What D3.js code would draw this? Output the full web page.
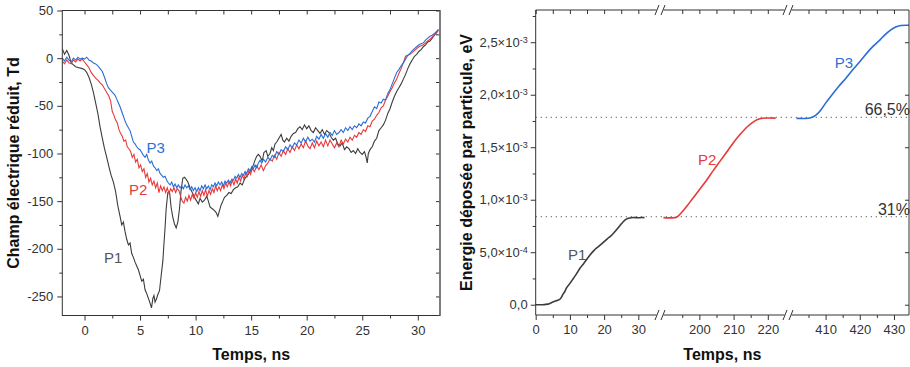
<!DOCTYPE html>
<html><head><meta charset="utf-8">
<script src="https://cdn.jsdelivr.net/npm/d3@7/dist/d3.min.js"></script>
<style>
body{margin:0;background:#fff}
svg{display:block;font-family:"Liberation Sans",Arial,sans-serif}
</style>
</head><body>
<svg id="c" width="910" height="367"></svg>
<script>
// ---------------- DATA ----------------
// Left panel: reduced electric field (Td) vs time (ns)
const fieldP1 = [[-2.0,10],[-1.8,4],[-1.6,8],[-1.4,3],[-1.2,-5],[-1.0,-7],[-0.8,-9],[-0.5,-10],[-0.2,-11],[0.0,-12],[0.2,-15],[0.4,-20],[0.6,-27],[0.8,-36],[1.0,-47],[1.2,-58],[1.4,-72],[1.6,-84],[1.8,-95],[2.0,-104],[2.2,-114],[2.4,-123],[2.6,-130],[2.8,-140],[3.0,-155],[3.2,-166],[3.35,-175],[3.5,-172],[3.65,-182],[3.8,-190],[3.95,-196],[4.1,-194],[4.25,-205],[4.4,-209],[4.55,-214],[4.7,-218],[4.85,-222],[5.0,-228],[5.15,-234],[5.3,-232],[5.45,-243],[5.6,-247],[5.75,-252],[5.9,-257],[6.03,-262],[6.15,-252],[6.25,-249],[6.35,-256],[6.5,-252],[6.6,-248],[6.75,-244],[6.9,-228],[7.05,-213],[7.15,-195],[7.25,-178],[7.35,-158],[7.5,-141],[7.65,-140],[7.8,-157],[7.95,-167],[8.1,-174],[8.25,-178],[8.4,-172],[8.55,-158],[8.7,-138],[8.85,-126],[9.0,-125],[9.15,-127],[9.3,-130],[9.5,-136],[9.7,-141],[9.9,-146],[10.1,-150],[10.25,-153],[10.4,-147],[10.6,-151],[10.8,-149],[11.0,-145],[11.15,-150],[11.3,-156],[11.5,-158],[11.7,-160],[11.85,-162],[12.0,-166],[12.15,-160],[12.3,-154],[12.45,-150],[12.6,-146],[12.8,-144],[13.0,-141],[13.2,-142],[13.4,-138],[13.6,-136],[13.8,-135],[14.0,-131],[14.2,-133],[14.4,-127],[14.6,-124],[14.8,-121],[15.0,-117],[15.2,-112],[15.35,-107],[15.5,-103],[15.65,-101],[15.8,-103],[16.0,-108],[16.15,-99],[16.35,-97],[16.5,-103],[16.7,-100],[16.85,-94],[17.0,-97],[17.15,-90],[17.3,-88],[17.5,-84],[17.7,-80],[17.85,-86],[18.0,-88],[18.2,-84],[18.4,-87],[18.6,-82],[18.8,-79],[19.0,-78],[19.2,-74],[19.4,-72],[19.6,-75],[19.8,-70],[20.0,-74],[20.2,-71],[20.4,-76],[20.6,-78],[20.8,-73],[21.0,-76],[21.2,-79],[21.4,-75],[21.6,-80],[21.8,-76],[22.0,-78],[22.2,-83],[22.4,-86],[22.6,-84],[22.8,-90],[23.0,-92],[23.2,-89],[23.4,-96],[23.6,-93],[23.8,-95],[24.0,-99],[24.2,-97],[24.4,-100],[24.6,-95],[24.8,-99],[25.0,-101],[25.2,-98],[25.35,-104],[25.45,-110],[25.55,-100],[25.7,-96],[25.9,-93],[26.1,-87],[26.3,-84],[26.5,-76],[26.7,-73],[26.9,-70],[27.1,-65],[27.3,-58],[27.5,-53],[27.7,-46],[27.9,-40],[28.1,-35],[28.3,-31],[28.5,-27],[28.7,-22],[28.9,-17],[29.1,-11],[29.3,-6],[29.5,-2],[29.7,2],[29.9,4],[30.1,7],[30.3,9],[30.5,12],[30.7,14],[30.9,17],[31.1,18],[31.3,21],[31.5,24],[31.7,27],[31.85,30]];

const fieldP2 = [[-2.0,-3],[-1.8,-6],[-1.6,-2],[-1.4,-5],[-1.2,-6],[-1.0,-2],[-0.8,-4],[-0.6,-1],[-0.4,-3],[-0.2,-1],[0.0,-4],[0.2,-7],[0.4,-10],[0.6,-15],[0.8,-18],[1.0,-21],[1.2,-23],[1.4,-26],[1.6,-28],[1.8,-32],[2.0,-36],[2.2,-40],[2.35,-45],[2.5,-56],[2.65,-60],[2.8,-65],[2.95,-68],[3.1,-75],[3.25,-79],[3.4,-82],[3.55,-87],[3.7,-86],[3.85,-93],[4.0,-95],[4.15,-98],[4.3,-104],[4.45,-101],[4.6,-109],[4.75,-106],[4.9,-115],[5.05,-112],[5.2,-119],[5.35,-116],[5.5,-125],[5.65,-121],[5.8,-130],[5.95,-126],[6.1,-133],[6.25,-129],[6.4,-136],[6.55,-131],[6.7,-141],[6.85,-134],[7.0,-139],[7.15,-135],[7.3,-141],[7.45,-136],[7.6,-142],[7.75,-137],[7.9,-140],[8.05,-136],[8.2,-141],[8.35,-137],[8.5,-139],[8.65,-145],[8.8,-150],[8.95,-152],[9.1,-146],[9.25,-150],[9.4,-144],[9.55,-149],[9.7,-143],[9.85,-147],[10.0,-141],[10.15,-146],[10.3,-140],[10.45,-145],[10.6,-139],[10.75,-144],[10.9,-138],[11.05,-145],[11.2,-139],[11.35,-143],[11.5,-137],[11.65,-141],[11.8,-134],[11.95,-139],[12.1,-135],[12.25,-139],[12.4,-133],[12.55,-137],[12.7,-131],[12.85,-135],[13.0,-130],[13.15,-134],[13.3,-128],[13.45,-133],[13.6,-127],[13.75,-131],[13.9,-125],[14.05,-129],[14.2,-123],[14.35,-127],[14.5,-121],[14.65,-124],[14.8,-118],[14.95,-122],[15.1,-116],[15.3,-119],[15.5,-113],[15.7,-117],[15.9,-112],[16.1,-118],[16.3,-113],[16.5,-110],[16.7,-106],[16.9,-108],[17.1,-102],[17.3,-106],[17.5,-99],[17.7,-103],[17.9,-97],[18.1,-101],[18.3,-95],[18.5,-99],[18.7,-93],[18.9,-97],[19.1,-91],[19.3,-95],[19.5,-90],[19.7,-94],[19.9,-87],[20.1,-92],[20.3,-95],[20.5,-89],[20.7,-94],[20.9,-87],[21.1,-92],[21.3,-88],[21.5,-93],[21.7,-86],[21.9,-92],[22.1,-86],[22.3,-90],[22.5,-94],[22.7,-89],[22.9,-93],[23.1,-86],[23.3,-90],[23.5,-85],[23.7,-88],[23.9,-83],[24.1,-86],[24.3,-81],[24.5,-83],[24.7,-78],[24.9,-80],[25.1,-75],[25.3,-77],[25.5,-71],[25.7,-72],[25.9,-66],[26.1,-64],[26.3,-60],[26.5,-57],[26.7,-52],[26.9,-50],[27.1,-44],[27.3,-40],[27.5,-35],[27.7,-31],[27.9,-26],[28.1,-22],[28.3,-16],[28.5,-11],[28.7,-5],[28.9,2],[29.1,3],[29.3,4],[29.5,6],[29.7,8],[29.9,10],[30.1,12],[30.3,13],[30.5,14],[30.7,16],[30.9,18],[31.1,20],[31.3,22],[31.5,24],[31.7,27],[31.85,29]];

const fieldP3 = [[-2.0,0],[-1.8,-3],[-1.6,1],[-1.4,-2],[-1.2,-4],[-1.0,0],[-0.8,-2],[-0.6,1],[-0.4,-1],[-0.2,0],[0.0,-1],[0.2,1],[0.4,-2],[0.6,-3],[0.8,-5],[1.0,-6],[1.2,-8],[1.4,-11],[1.6,-14],[1.8,-20],[2.0,-27],[2.15,-31],[2.3,-33],[2.45,-35],[2.6,-37],[2.75,-39],[2.9,-43],[3.05,-47],[3.2,-51],[3.35,-56],[3.5,-61],[3.65,-66],[3.8,-70],[3.95,-73],[4.1,-76],[4.25,-82],[4.4,-88],[4.55,-90],[4.7,-93],[4.85,-95],[5.0,-96],[5.15,-99],[5.3,-102],[5.45,-104],[5.6,-101],[5.75,-107],[5.9,-110],[6.05,-108],[6.2,-113],[6.35,-115],[6.5,-118],[6.65,-116],[6.8,-121],[6.95,-123],[7.1,-125],[7.25,-124],[7.4,-128],[7.55,-131],[7.7,-133],[7.85,-130],[8.0,-135],[8.15,-132],[8.3,-136],[8.45,-133],[8.6,-136],[8.75,-134],[8.9,-137],[9.05,-133],[9.2,-136],[9.35,-134],[9.5,-138],[9.65,-135],[9.8,-139],[9.95,-136],[10.1,-140],[10.25,-136],[10.4,-139],[10.55,-134],[10.7,-137],[10.85,-133],[11.0,-137],[11.15,-134],[11.3,-138],[11.45,-133],[11.6,-135],[11.75,-131],[11.9,-134],[12.05,-130],[12.2,-133],[12.35,-130],[12.5,-134],[12.65,-129],[12.8,-131],[12.95,-128],[13.1,-131],[13.25,-127],[13.4,-128],[13.55,-124],[13.7,-126],[13.85,-122],[14.0,-125],[14.15,-121],[14.3,-123],[14.45,-119],[14.6,-121],[14.75,-116],[14.9,-118],[15.05,-114],[15.2,-116],[15.35,-112],[15.5,-115],[15.65,-110],[15.8,-107],[15.95,-110],[16.1,-106],[16.3,-109],[16.5,-104],[16.7,-107],[16.9,-102],[17.1,-104],[17.3,-98],[17.5,-101],[17.7,-96],[17.9,-98],[18.1,-93],[18.3,-96],[18.5,-91],[18.7,-94],[18.9,-89],[19.1,-91],[19.3,-86],[19.5,-89],[19.7,-84],[19.9,-88],[20.1,-83],[20.3,-87],[20.5,-85],[20.7,-88],[20.9,-82],[21.1,-85],[21.3,-80],[21.5,-84],[21.7,-79],[21.9,-83],[22.1,-78],[22.3,-81],[22.5,-76],[22.7,-80],[22.9,-78],[23.1,-75],[23.3,-78],[23.5,-73],[23.7,-76],[23.9,-72],[24.1,-75],[24.3,-71],[24.5,-73],[24.7,-69],[24.9,-71],[25.1,-67],[25.3,-68],[25.5,-63],[25.7,-61],[25.9,-56],[26.1,-51],[26.3,-53],[26.5,-46],[26.7,-47],[26.9,-43],[27.1,-44],[27.3,-37],[27.5,-33],[27.7,-27],[27.9,-21],[28.1,-15],[28.3,-12],[28.5,-8],[28.7,-5],[28.9,-1],[29.1,3],[29.3,5],[29.5,8],[29.7,10],[29.9,12],[30.1,14],[30.3,15],[30.5,16],[30.7,19],[30.9,21],[31.1,23],[31.3,24],[31.5,26],[31.7,28],[31.85,30]];

// Right panel: deposited energy per particle (eV) vs time (ns), three time segments
const energyP1 = [[0,0],[2,0],[3,0.000003],[4,0.00001],[5,0.000025],[6,0.000038],[7,0.00005],[7.5,0.00007],[8,0.0001],[8.5,0.000125],[9,0.00016],[10,0.000203],[11,0.00025],[12,0.000298],[13,0.00035],[14,0.00039],[15,0.000435],[16,0.000478],[17,0.000515],[18,0.000545],[19,0.000572],[20,0.0006],[21,0.00063],[22,0.000655],[23,0.00069],[24,0.000728],[25,0.000768],[26,0.000803],[26.5,0.000815],[27.5,0.000826],[28.5,0.00083],[30,0.000828],[31,0.00083],[31.8,0.000829]];
const energyP2 = [[189.5,0.000829],[191,0.000827],[193,0.000829],[194,0.00085],[195,0.000885],[196.5,0.000945],[198,0.00101],[200,0.001095],[202,0.00118],[204,0.001275],[206,0.001365],[208,0.001455],[210,0.001545],[212,0.001625],[214,0.001695],[215.5,0.001735],[217,0.001765],[218.5,0.001776],[220,0.001778],[222.3,0.001777]];
const energyP3 = [[401.5,0.001775],[403,0.001774],[405,0.001776],[406.4,0.00179],[407.5,0.001815],[408.5,0.00185],[410,0.00192],[412,0.002005],[414,0.002085],[416,0.00216],[418,0.00224],[420,0.002315],[422,0.002394],[424,0.002465],[426,0.002525],[427.5,0.002575],[429,0.002615],[430.5,0.002645],[432,0.00266],[433.5,0.002662],[434.4,0.002662]];

// Axis setup
const fieldXTicks = [0,5,10,15,20,25,30];
const fieldXMinor = [2.5,7.5,12.5,17.5,22.5,27.5];
const fieldYTicks = [-250,-200,-150,-100,-50,0,50];
const fieldYMinor = [-225,-175,-125,-75,-25,25];
const segDomains = [[0,36.34],[188.5,225.9],[399,434.4]];
const segMajor = [[0,10,20,30],[200,210,220],[410,420,430]];
const segMinor = [[5,15,25],[195,205,215],[405,415,425]];
const energyYTicks = [0,0.0005,0.001,0.0015,0.002,0.0025];
const energyYMant = ["0,0","5,0","1,0","1,5","2,0","2,5"];
const energyYExp = [null,"-4","-3","-3","-3","-3"];
const energyYMinor = [0.00025,0.00075,0.00125,0.00175,0.00225,0.00275];
const refLevels = [0.000838,0.001785];
const refLabels = ["31%","66,5%"];

// Labels (data coordinates)
const fieldLabels = [{n:"P3",t:5.58,v:-99.7,c:"#2f6fd4"},{n:"P2",t:4.0,v:-144,c:"#e0403e"},{n:"P1",t:1.76,v:-214.4,c:"#555"}];
const energyLabels = [{n:"P1",seg:0,t:9.44,v:0.000426,c:"#555"},{n:"P2",seg:1,t:199.6,v:0.00133,c:"#e0403e"},{n:"P3",seg:2,t:412.7,v:0.002254,c:"#2f6fd4"}];

const colP1 = "#3c3c3c", colP2 = "#e8393a", colP3 = "#2a6dd6";
const axisCol = "#333", textCol = "#333";

// --------------- DRAW ---------------
const svg = d3.select("#c");

function styleAxis(g, fs){
  g.select(".domain").remove();
  g.selectAll(".tick line").attr("stroke", axisCol);
  g.selectAll(".tick text").attr("fill", textCol).style("font-size", fs+"px").style("font-family","'Liberation Sans',Arial,sans-serif");
}

// ===== Left panel =====
const L = {x0:62.3, x1:440, y0:10.5, y1:315.5};
const xL = d3.scaleLinear().domain([-2,32]).range([L.x0,L.x1]);
const yL = d3.scaleLinear().domain([-270,50]).range([L.y1,L.y0]);
const gl = svg.append("g");

gl.append("clipPath").attr("id","clipL").append("rect")
  .attr("x",L.x0).attr("y",L.y0).attr("width",L.x1-L.x0).attr("height",L.y1-L.y0);

const lineL = d3.line().x(d=>xL(d[0])).y(d=>yL(d[1]));
[[fieldP1,colP1],[fieldP2,colP2],[fieldP3,colP3]].forEach(([d,c])=>{
  gl.append("path").datum(d).attr("d",lineL).attr("fill","none")
    .attr("stroke",c).attr("stroke-width",1.1).attr("clip-path","url(#clipL)");
});

// axes
gl.append("g").attr("transform",`translate(0,${L.y1})`)
  .call(d3.axisBottom(xL).tickValues(fieldXTicks).tickSize(5).tickPadding(5).tickFormat(d=>String(d)))
  .call(g=>styleAxis(g,13));
gl.append("g").attr("transform",`translate(0,${L.y1})`)
  .call(d3.axisBottom(xL).tickValues(fieldXMinor).tickSize(3).tickFormat(""))
  .call(g=>styleAxis(g,13));
gl.append("g").attr("transform",`translate(0,${L.y0})`)
  .call(d3.axisTop(xL).tickValues(fieldXTicks.concat(fieldXMinor)).tickSize(-4).tickFormat(""))
  .call(g=>styleAxis(g,13));
gl.append("g").attr("transform",`translate(${L.x0},0)`)
  .call(d3.axisLeft(yL).tickValues(fieldYTicks).tickSize(5).tickPadding(4).tickFormat(d=>String(d)))
  .call(g=>styleAxis(g,13));
gl.append("g").attr("transform",`translate(${L.x0},0)`)
  .call(d3.axisLeft(yL).tickValues(fieldYMinor).tickSize(3).tickFormat(""))
  .call(g=>styleAxis(g,13));
gl.append("g").attr("transform",`translate(${L.x1},0)`)
  .call(d3.axisLeft(yL).tickValues(fieldYTicks.concat(fieldYMinor)).tickSize(4).tickFormat(""))
  .call(g=>styleAxis(g,13));

gl.append("rect").attr("x",L.x0).attr("y",L.y0).attr("width",L.x1-L.x0).attr("height",L.y1-L.y0)
  .attr("fill","none").attr("stroke",axisCol).attr("stroke-width",1);
gl.append("line").attr("x1",L.x1).attr("x2",L.x1).attr("y1",L.y0).attr("y2",L.y1)
  .attr("stroke","#777").attr("stroke-width",1.6);

gl.selectAll("text.lab").data(fieldLabels).join("text").attr("class","lab")
  .attr("x",d=>xL(d.t)).attr("y",d=>yL(d.v)).attr("fill",d=>d.c)
  .style("font-size","15px").text(d=>d.n);

gl.append("text").attr("x",(L.x0+L.x1)/2).attr("y",360).attr("text-anchor","middle")
  .style("font-size","16px").style("font-weight","bold").attr("fill","#111").text("Temps, ns");
gl.append("text").attr("transform",`translate(19,${(L.y0+L.y1)/2}) rotate(-90)`).attr("text-anchor","middle")
  .style("font-size","16px").style("font-weight","bold").attr("fill","#111").text("Champ électrique réduit, Td");

// ===== Right panel =====
const R = {x0:535.7, x1:909, y0:10, y1:315};
const breaksPx = [660, 788];
const edges = [R.x0, breaksPx[0], breaksPx[1], R.x1];
const xs = segDomains.map((d,i)=>d3.scaleLinear().domain(d).range([edges[i],edges[i+1]]));
const yR = d3.scaleLinear().domain([-0.000098,0.002807]).range([R.y1,R.y0]);
const gr = svg.append("g");

// reference dotted lines
gr.selectAll("line.ref").data(refLevels).join("line").attr("class","ref")
  .attr("x1",R.x0).attr("x2",R.x1).attr("y1",d=>yR(d)).attr("y2",d=>yR(d))
  .attr("stroke","#666").attr("stroke-width",1).attr("stroke-dasharray","1.3,3.7");
gr.selectAll("text.ref").data(refLabels).join("text").attr("class","ref")
  .attr("x",R.x1+1).attr("y",(d,i)=>yR(refLevels[i])-2).attr("text-anchor","end")
  .attr("fill",textCol).style("font-size","16px").text(d=>d);

// curves
[[energyP1,0,colP1],[energyP2,1,colP2],[energyP3,2,colP3]].forEach(([d,s,c])=>{
  const ln = d3.line().x(p=>xs[s](p[0])).y(p=>yR(p[1])).curve(d3.curveMonotoneX);
  gr.append("path").datum(d).attr("d",ln).attr("fill","none").attr("stroke",c).attr("stroke-width",1.6);
});

// x axes per segment
xs.forEach((sc,i)=>{
  gr.append("g").attr("transform",`translate(0,${R.y1})`)
    .call(d3.axisBottom(sc).tickValues(segMajor[i]).tickSize(5).tickPadding(5).tickFormat(d=>String(d)))
    .call(g=>styleAxis(g,13));
  gr.append("g").attr("transform",`translate(0,${R.y1})`)
    .call(d3.axisBottom(sc).tickValues(segMinor[i]).tickSize(3).tickFormat(""))
    .call(g=>styleAxis(g,13));
  gr.append("g").attr("transform",`translate(0,${R.y0})`)
    .call(d3.axisTop(sc).tickValues(segMajor[i].concat(segMinor[i])).tickSize(-4).tickFormat(""))
    .call(g=>styleAxis(g,13));
});

// y axis
const yAx = gr.append("g").attr("transform",`translate(${R.x0},0)`)
  .call(d3.axisLeft(yR).tickValues(energyYTicks).tickSize(5).tickPadding(3).tickFormat(""))
  .call(g=>styleAxis(g,13));
yAx.selectAll(".tick").each(function(d,i){
  const t = d3.select(this).select("text").text(null).attr("dy","0.32em");
  t.append("tspan").text(energyYMant[i]);
  if(energyYExp[i]){
    t.append("tspan").text("×10");
    t.append("tspan").attr("dy","-0.45em").style("font-size","9px").text(energyYExp[i]);
  }
});
gr.append("g").attr("transform",`translate(${R.x0},0)`)
  .call(d3.axisLeft(yR).tickValues(energyYMinor).tickSize(3).tickFormat(""))
  .call(g=>styleAxis(g,13));
gr.append("g").attr("transform",`translate(${R.x1},0)`)
  .call(d3.axisLeft(yR).tickValues(energyYTicks).tickSize(4).tickFormat(""))
  .call(g=>styleAxis(g,13));

// frame with breaks
const gap = 3.5;
[R.y0,R.y1].forEach(y=>{
  const pts = [R.x0, breaksPx[0]-gap, breaksPx[0]+gap, breaksPx[1]-gap, breaksPx[1]+gap, R.x1];
  for(let k=0;k<pts.length;k+=2){
    gr.append("line").attr("x1",pts[k]).attr("x2",pts[k+1]).attr("y1",y).attr("y2",y)
      .attr("stroke",axisCol).attr("stroke-width",1);
  }
  breaksPx.forEach(bx=>{
    [-3,3].forEach(o=>{
      gr.append("line").attr("x1",bx+o-2).attr("x2",bx+o+2).attr("y1",y+5).attr("y2",y-5)
        .attr("stroke",axisCol).attr("stroke-width",1);
    });
  });
});
gr.append("line").attr("x1",R.x0).attr("x2",R.x0).attr("y1",R.y0).attr("y2",R.y1).attr("stroke",axisCol);
gr.append("line").attr("x1",R.x1).attr("x2",R.x1).attr("y1",R.y0).attr("y2",R.y1).attr("stroke",axisCol);

gr.selectAll("text.lab").data(energyLabels).join("text").attr("class","lab")
  .attr("x",d=>xs[d.seg](d.t)).attr("y",d=>yR(d.v)).attr("fill",d=>d.c)
  .style("font-size","15px").text(d=>d.n);

gr.append("text").attr("x",(R.x0+R.x1)/2).attr("y",360).attr("text-anchor","middle")
  .style("font-size","16px").style("font-weight","bold").attr("fill","#111").text("Temps, ns");
gr.append("text").attr("transform",`translate(472,${(R.y0+R.y1)/2}) rotate(-90)`).attr("text-anchor","middle")
  .style("font-size","16px").style("font-weight","bold").attr("fill","#111").text("Energie déposée par particule, eV");
</script>
</body></html>
